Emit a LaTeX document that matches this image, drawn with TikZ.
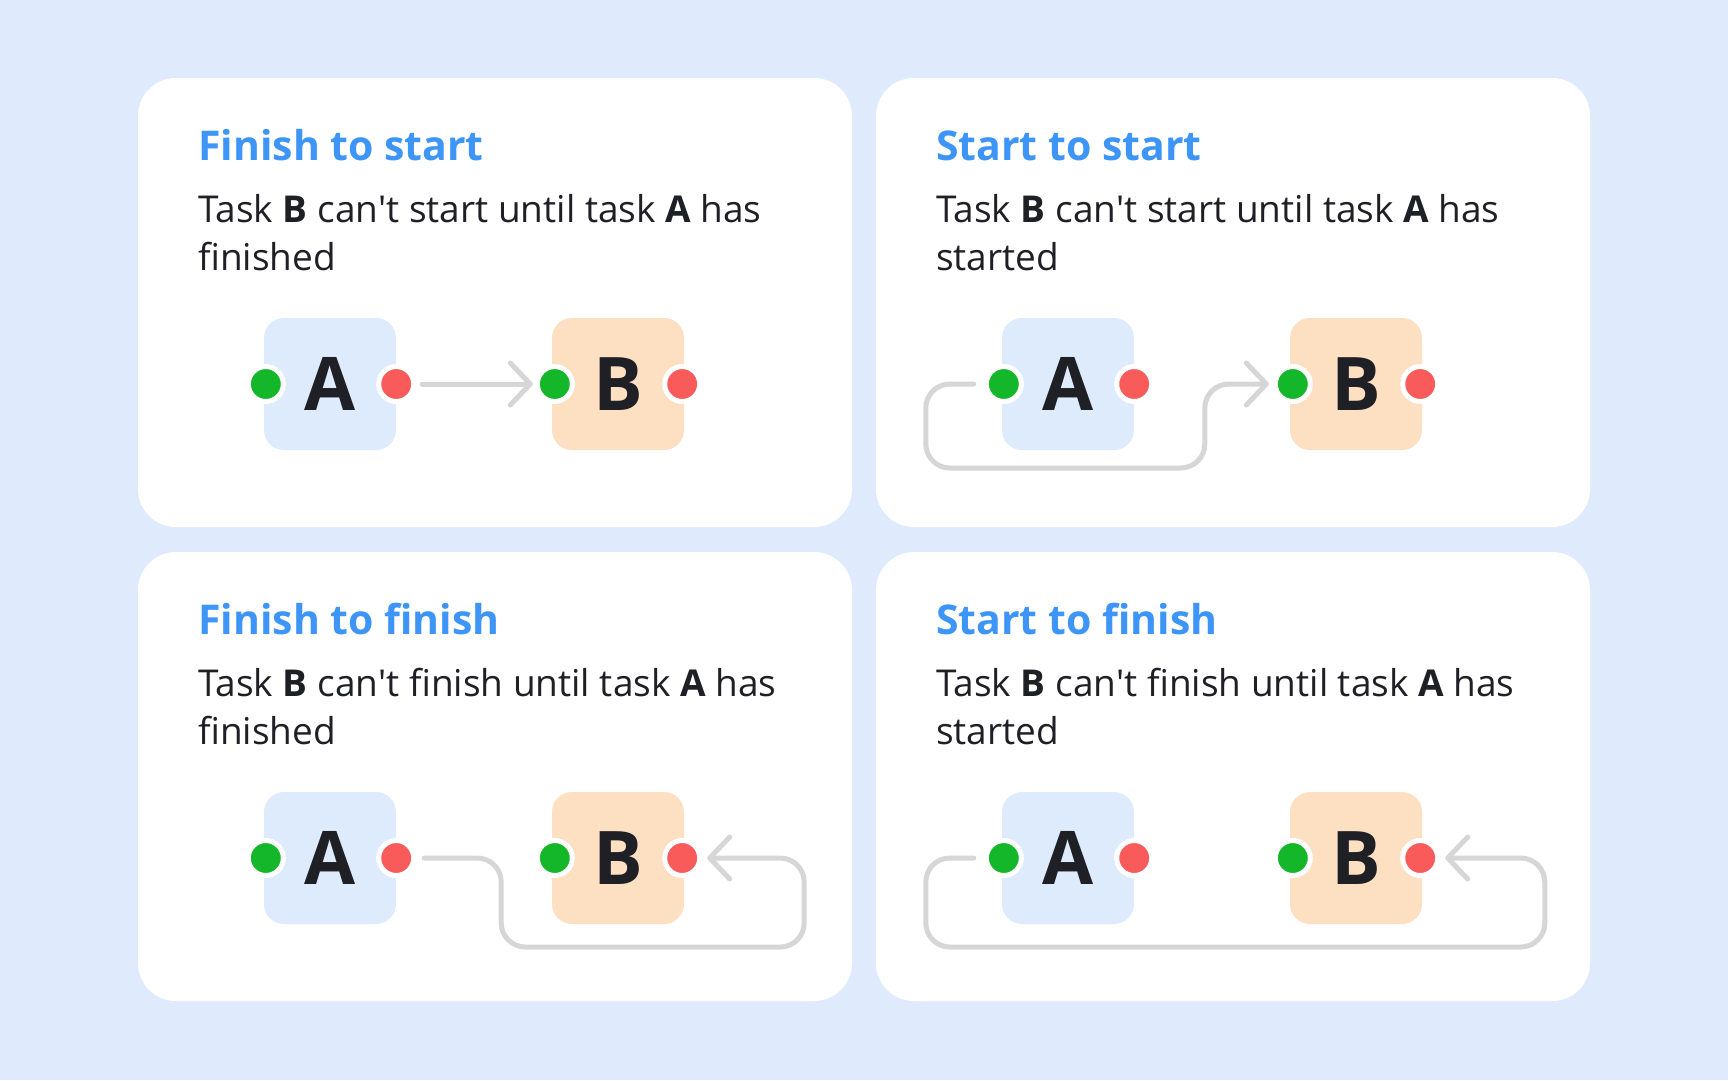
\documentclass[tikz,border=0pt]{standalone}
\usepackage{fontspec}
\setmainfont{Open Sans}
\usetikzlibrary{arrows.meta,positioning}
\definecolor{bgblue}{HTML}{DFEBFC}
\definecolor{boxblue}{HTML}{DEEBFC}
\definecolor{boxpeach}{HTML}{FDDFC2}
\definecolor{dotgreen}{HTML}{14B72A}
\definecolor{dotred}{HTML}{F95B5B}
\definecolor{linkgray}{HTML}{D6D6D6}
\definecolor{titleblue}{HTML}{3E95F8}
\definecolor{inkdark}{HTML}{1F1F26}

\begin{document}
\begin{tikzpicture}[x=1pt, y=-1pt,
        card/.style = {fill=white, rounded corners=38pt},
        heading/.style = {anchor=base west, inner sep=0pt, text=titleblue,
                          font=\fontsize{41}{48}\selectfont\bfseries},
        caption/.style = {anchor=base west, inner sep=0pt, text=inkdark,
                          font=\fontsize{37}{48}\selectfont},
        task/.style = {rounded corners=20pt, minimum size=132pt, inner sep=0pt,
                       text=inkdark, font=\fontsize{74}{80}\selectfont\bfseries},
        taskA/.style = {task, fill=boxblue},
        taskB/.style = {task, fill=boxpeach},
        startdot/.style = {circle, fill=dotgreen, draw=white, line width=5pt,
                           minimum size=35pt, inner sep=0pt},
        finishdot/.style = {startdot, fill=dotred},
        link/.style = {draw=linkgray, line width=5pt, line cap=round, rounded corners=24pt,
                       -{Straight Barb[length=20pt, width=42pt, round]}}]
    \fill[bgblue] (0,0) rectangle (1728,1080);
    % the four cards
    \foreach \p/\dx/\dy/\ttl/\what/\tail in {fs/0/0/Finish to start/start/finished,
                                             ss/738/0/Start to start/start/started,
                                             ff/0/474/Finish to finish/finish/finished,
                                             sf/738/474/Start to finish/finish/started}
    {
        \begin{scope}[shift={(\dx,\dy)}]
            \fill[card] (138,78) rectangle (852,527);
            \node[heading] (\p Title) at (198,160) {\ttl};
            \node[caption] (\p Line) at (198,222) {Task \textbf{B} can\textquotesingle t \what\ until task \textbf{A} has};
            \node[caption] (\p Tail) at (198,270) {\tail};
            \node[taskA] (\p A) at (330,384) {A};
            \node[taskB] (\p B) at (618,384) {B};
            \node[startdot] (\p As) at ([xshift=2pt]\p A.west) {};
            \node[finishdot] (\p Af) at (\p A.east) {};
            \node[startdot] (\p Bs) at ([xshift=3pt]\p B.west) {};
            \node[finishdot] (\p Bf) at ([xshift=-2pt]\p B.east) {};
        \end{scope}
    }
    % links
    \draw[link] ([xshift=6pt]fsAf.east) -- ([xshift=-2pt]fsBs.west);
    \draw[link] ([xshift=-10pt]ssAs.west) -- ++(-48,0) -- ++(0,84) -- ++(279,0) -- ++(0,-84)
                -- ([xshift=-4pt]ssBs.west);
    \draw[link] ([xshift=8pt]ffAf.east) -- ++(77,0) -- ++(0,89) -- ++(303,0) -- ++(0,-89)
                -- ([xshift=5pt]ffBf.east);
    \draw[link] ([xshift=-10pt]sfAs.west) -- ++(-48,0) -- ++(0,89) -- ++(619,0) -- ++(0,-89)
                -- ([xshift=5pt]sfBf.east);
\end{tikzpicture}
\end{document}
